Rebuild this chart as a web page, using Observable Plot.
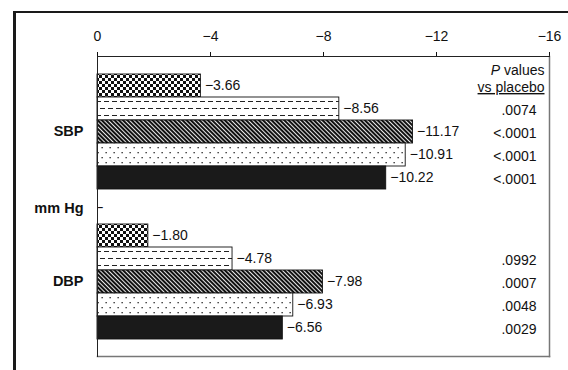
<!DOCTYPE html>
<html>
<head>
<meta charset="utf-8">
<script src="https://cdn.jsdelivr.net/npm/d3@7"></script>
<script src="https://cdn.jsdelivr.net/npm/@observablehq/plot@0.6"></script>
<style>
  html, body { margin: 0; padding: 0; background: white; }
  #wrap { position: relative; width: 568px; height: 370px; overflow: hidden; }
  #wrap svg { position: absolute; left: 0; top: 0; }
  #border { position: absolute; left: 13px; top: 11px; width: 700px; height: 500px;
            border-top: 2px solid #1a1a1a; border-left: 3px solid #1a1a1a; pointer-events: none; }
</style>
</head>
<body>
<div id="wrap"><div id="border"></div></div>
<script>
// ---- data ----
const groups = ["SBP", "DBP"];
const treatments = ["Placebo", "Treatment A", "Treatment B", "Treatment C", "Treatment D"];
const sbpValues = [-3.66, -8.56, -11.17, -10.91, -10.22];
const dbpValues = [-1.80, -4.78, -7.98, -6.93, -6.56];
const sbpP = ["", ".0074", "<.0001", "<.0001", "<.0001"];
const dbpP = ["", ".0992", ".0007", ".0048", ".0029"];
const xTicks = [0, -4, -8, -12, -16];
const axisTitle = "mm Hg";
const pHeader1 = "P values";
const pHeader2 = "vs placebo";

const rows = [];
groups.forEach((g, gi) => {
  const vals = gi === 0 ? sbpValues : dbpValues;
  const ps = gi === 0 ? sbpP : dbpP;
  treatments.forEach((t, i) => rows.push({group: g, treatment: t, value: vals[i], p: ps[i]}));
});

const minus = v => (v === 0 ? "0" : "\u2212" + Math.abs(v));
const fmt = v => "\u2212" + Math.abs(v).toFixed(2);
const font = "'Liberation Sans', Arial, Helvetica, sans-serif";

const chart = Plot.plot({
  width: 568,
  height: 370,
  marginLeft: 97,
  marginTop: 56,
  marginRight: 19,
  marginBottom: 14,
  style: {fontFamily: font, fontSize: "14px", color: "#111", background: "white"},
  x: {domain: [0, -16], label: null},
  y: {domain: treatments, axis: null, paddingInner: 0, paddingOuter: 0.705},
  fy: {domain: groups, padding: 0, axis: null, label: null},
  color: {domain: treatments, range: ["url(#pChecker)", "url(#pDash)", "url(#pHatch)", "url(#pDots)", "#1a1a1a"]},
  marks: [
    Plot.barX(rows, {fy: "group", y: "treatment", x: "value", fill: "treatment", stroke: "#111", strokeWidth: 0.9}),
    Plot.text(rows, {fy: "group", y: "treatment", x: "value", text: d => fmt(d.value), textAnchor: "start", dx: 4, fontSize: 14, fill: "#111"}),
    Plot.text(rows, {fy: "group", y: "treatment", text: "p", frameAnchor: "right", textAnchor: "end", dx: -13, dy: 1.5, fontSize: 14, fill: "#111"}),
    Plot.text([pHeader1], {fy: ["SBP"], frameAnchor: "top-right", textAnchor: "end", lineAnchor: "middle", dx: -5, dy: 14, fontSize: 14, fill: "#111"}),
    Plot.text([pHeader2], {fy: ["SBP"], frameAnchor: "top-right", textAnchor: "end", lineAnchor: "middle", dx: -5, dy: 31, fontSize: 14, fill: "#111"}),
    Plot.axisFy({anchor: "left", tickSize: 0, tickPadding: 14, label: null, fontWeight: "bold", fontSize: 14.5}),
    Plot.axisX({anchor: "top", ticks: xTicks, tickFormat: minus, tickSize: 5, tickPadding: 11, label: null, fontSize: 14}),
    Plot.text([axisTitle], {facet: "super", frameAnchor: "left", textAnchor: "end", dx: -14, dy: 2, fontWeight: "bold", fontSize: 14.5, fill: "#111"}),
    Plot.text(["\u2013"], {facet: "super", frameAnchor: "left", textAnchor: "start", dy: 1, fontSize: 10, fontWeight: "bold", fill: "#111"}),
    Plot.frame({facet: "super", anchor: "right", stroke: "#777", strokeWidth: 1.5}),
    Plot.frame({facet: "super", anchor: "bottom", stroke: "#777", strokeWidth: 1.5}),
    Plot.frame({facet: "super", anchor: "left", stroke: "#222", strokeWidth: 1}),
    Plot.frame({facet: "super", anchor: "top", stroke: "#222", strokeWidth: 1})
  ]
});

// pattern definitions
const ns = "http://www.w3.org/2000/svg";
const defs = document.createElementNS(ns, "defs");
defs.innerHTML = `
  <pattern id="pChecker" width="6" height="6" patternUnits="userSpaceOnUse">
    <rect width="6" height="6" fill="white"/>
    <rect width="3" height="3" fill="#111"/>
    <rect x="3" y="3" width="3" height="3" fill="#111"/>
  </pattern>
  <pattern id="pDash" width="8" height="14" patternUnits="userSpaceOnUse">
    <rect width="8" height="14" fill="white"/>
    <rect x="0" y="3" width="5" height="1" fill="#222"/>
    <rect x="4" y="10" width="5" height="1" fill="#222"/>
    <rect x="-4" y="10" width="5" height="1" fill="#222"/>
  </pattern>
  <pattern id="pHatch" width="3" height="10" patternUnits="userSpaceOnUse" patternTransform="rotate(-45)">
    <rect width="3" height="10" fill="#111"/>
    <rect width="0.9" height="10" fill="white"/>
  </pattern>
  <pattern id="pDots" width="8" height="10" patternUnits="userSpaceOnUse">
    <rect width="8" height="10" fill="white"/>
    <rect x="1.5" y="2" width="1.3" height="1.3" fill="#222"/>
    <rect x="5.5" y="7" width="1.3" height="1.3" fill="#222"/>
  </pattern>`;
chart.insertBefore(defs, chart.firstChild);

// italic P and underline
chart.querySelectorAll("text").forEach(t => {
  if (t.textContent === pHeader1) {
    t.textContent = "";
    const a = document.createElementNS(ns, "tspan");
    a.setAttribute("font-style", "italic");
    a.textContent = "P";
    const b = document.createElementNS(ns, "tspan");
    b.textContent = " values";
    t.appendChild(a); t.appendChild(b);
  } else if (t.textContent === pHeader2) {
    t.setAttribute("text-decoration", "underline");
  }
});

document.getElementById("wrap").insertBefore(chart, document.getElementById("border"));
</script>
</body>
</html>
